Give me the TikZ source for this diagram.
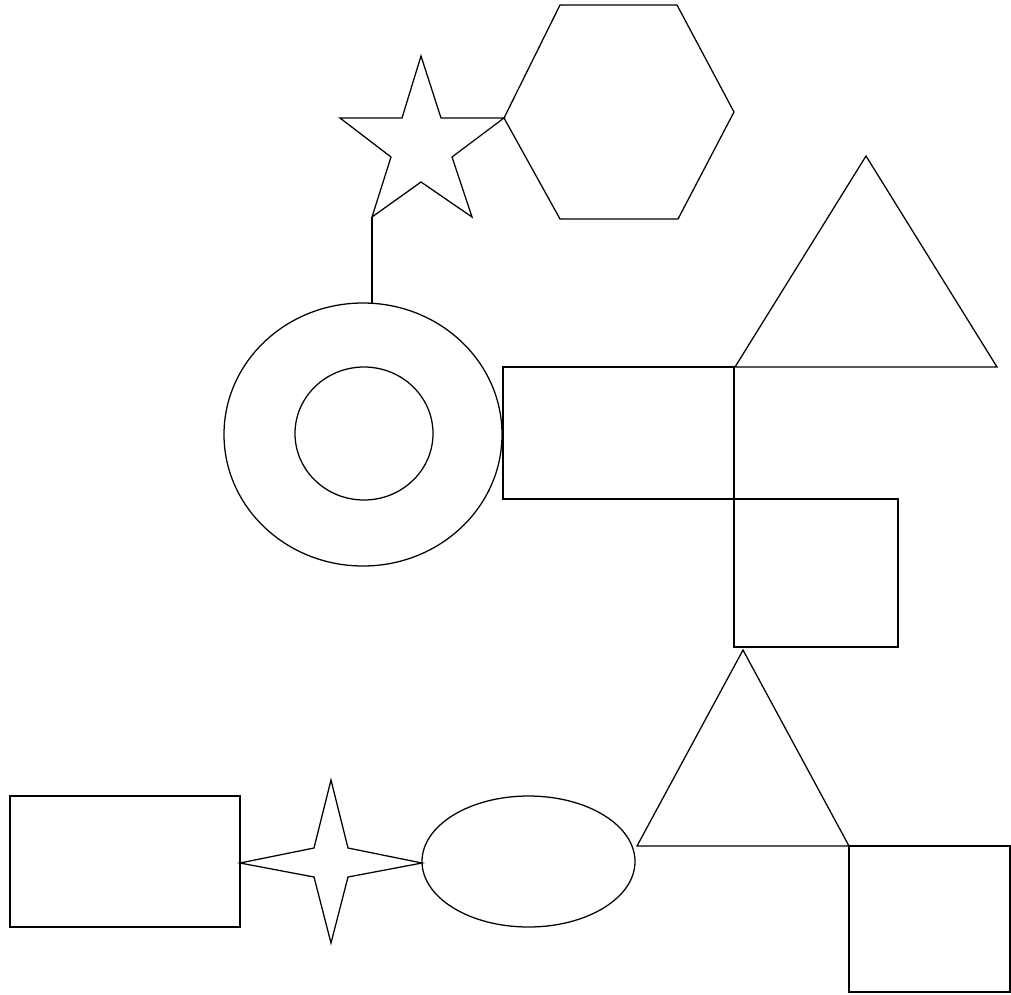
\documentclass[tikz,border=0pt]{standalone}
\begin{document}
\begin{tikzpicture}[x=0.025cm,y=-0.025cm, line width=0.9pt, line join=miter]
        \useasboundingbox (0,0) rectangle (1011,994);
        % top: star and hexagon
        \draw (421,56)--(441,118)--(504,118)--(452,157)--(472,217)--(421,182)--(372,217)--(391,157)--(340,118)--(402,118)--cycle ;
        \draw (504,118)--(560,5)--(677,5)--(734,112)--(678,219)--(560,219)--cycle ;
        \coordinate (starfoot) at (372,217);
        \coordinate (ringtop) at (372,303);
        \draw (starfoot)--(ringtop);
        % ring
        \draw (363,434.5) ellipse (139 and 131.5) ;
        \draw (364,433.5) ellipse (69 and 66.5) ;
        % boxes and big triangle
        \draw (503,367) rectangle (734,499) ;
        \draw (735,367)--(866,156)--(997,367)--cycle ;
        \draw (734,499) rectangle (898,647) ;
        % lower triangle and square
        \draw (743,650)--(849,846)--(637,846)--cycle ;
        \draw (849,846) rectangle (1010,992) ;
        % bottom row
        \draw (10,796) rectangle (240,927) ;
        \draw (331,780)--(348,848)--(422,863)--(348,877)--(331,943)--(314,877)--(240,863)--(314,848)--cycle ;
        \draw (528.5,861.5) ellipse (106.5 and 65.5) ;
\end{tikzpicture}
\end{document}
